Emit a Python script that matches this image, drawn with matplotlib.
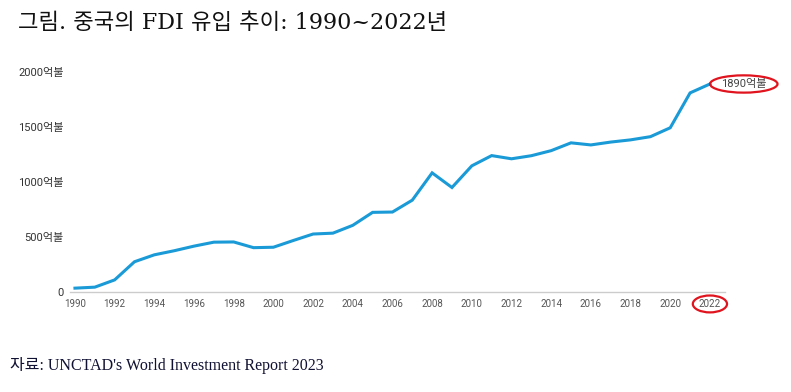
import matplotlib.pyplot as plt

years = list(range(1990, 2023))
fdi = [35, 44, 110, 275, 338, 375, 417, 453, 455, 403, 407, 468, 527, 535, 606,
       724, 727, 835, 1083, 950, 1147, 1240, 1211, 1239, 1285, 1356, 1337, 1363,
       1383, 1412, 1493, 1810, 1891]
xticks = list(range(1990, 2023, 2))
yticks = [0, 500, 1000, 1500, 2000]
ytick_labels = ['0', '500억불', '1000억불', '1500억불', '2000억불']
title = '그림. 중국의 FDI 유입 추이: 1990~2022년'
source = "자료: UNCTAD's World Investment Report 2023"

sans = ['Roboto', 'Noto Sans CJK KR']

fig = plt.figure(figsize=(7.91, 3.92), dpi=100)
ax = fig.add_axes([70 / 791, 1 - 292 / 392, 655 / 791, 231 / 392])

ax.plot(years, fdi, color='#1a9ad6', lw=2.2, solid_joinstyle='miter')
ax.set_xlim(1989.75, 2022.76)
ax.set_ylim(0, 2100)

for s in ['top', 'right', 'left']:
    ax.spines[s].set_visible(False)
ax.spines['bottom'].set_color('#cccccc')
ax.spines['bottom'].set_linewidth(1)

ax.set_xticks(xticks)
ax.set_xticklabels([str(y) for y in xticks], family=sans, fontsize=7, color='#555555')
ax.set_yticks(yticks)
ax.set_yticklabels(ytick_labels, family=sans, fontsize=8, color='#333333')
ax.tick_params(axis='both', length=0)
ax.tick_params(axis='x', pad=5)
ax.tick_params(axis='y', pad=4.5)

ax.get_xticklabels()[-1].set_bbox(dict(boxstyle='ellipse,pad=0.1', fc='none',
                                       ec='#e0141e', lw=1.6))

ax.annotate(f'{fdi[-1] - 1}억불', xy=(years[-1], fdi[-1]), xytext=(8, 0),
            textcoords='offset points', va='center', ha='left',
            family=sans, fontsize=8, color='#444444',
            bbox=dict(boxstyle='ellipse,pad=0.1', fc='none', ec='#e0141e', lw=1.6),
            annotation_clip=False)

fig.text(18 / 791, 1 - 23 / 392, title, family=['DejaVu Serif', 'Noto Sans CJK KR'],
         fontsize=16, va='center', ha='left', color='#111111')
fig.text(10 / 791, 1 - 365 / 392, source, family=['Liberation Serif', 'Noto Sans CJK KR'],
         fontsize=11.5, va='center', ha='left', color='#111133')

fig.savefig('out.png', dpi=100, facecolor='white')
